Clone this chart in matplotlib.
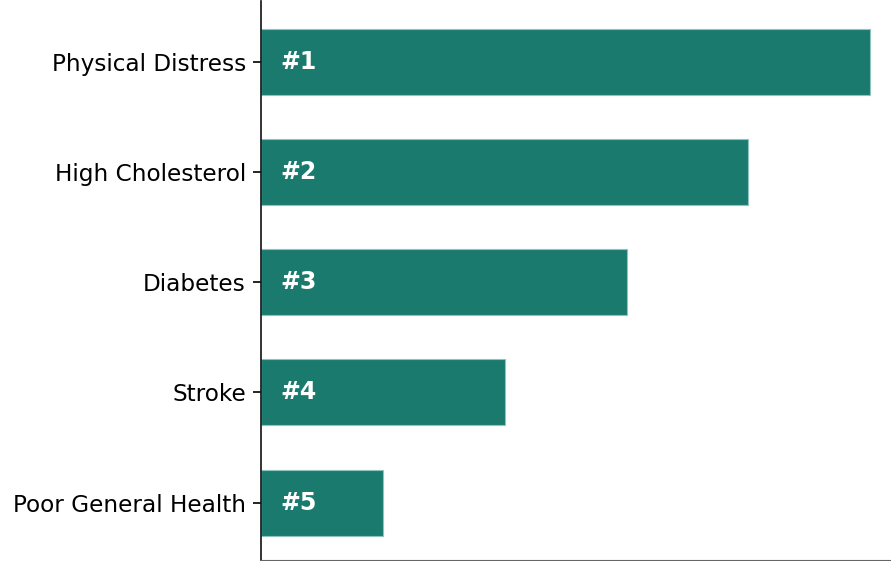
import matplotlib
matplotlib.use("Agg")
from matplotlib import pyplot as plt

categories = ["Physical Distress", "High Cholesterol", "Diabetes", "Stroke", "Poor General Health"]
values = [5, 4, 3, 2, 1]
ranks = ["#1", "#2", "#3", "#4", "#5"]

plt.rcParams['font.family'] = 'DejaVu Sans'

fig = plt.figure(figsize=(8.91, 5.61), dpi=100)
ax = fig.add_axes([0.293, 0.002, 0.707, 0.996])

ypos = list(range(len(categories)))
ax.barh(ypos, values, height=0.6, color="#1b7a6e", edgecolor="#8fc4bc", linewidth=0.8)

for y, r in zip(ypos, ranks):
    ax.text(0.16, y, r, color="white", fontsize=17, fontweight="bold",
            va="center", ha="left")

ax.set_yticks(ypos)
ax.set_yticklabels(categories, fontsize=16.7)
ax.set_ylim(4.52, -0.55)
ax.set_xlim(0, 5.17)
ax.set_xticks([])

ax.spines['top'].set_visible(False)
ax.spines['right'].set_visible(False)
ax.spines['left'].set_linewidth(1.2)
ax.spines['left'].set_color("#111111")
ax.spines['bottom'].set_color("#666666")
ax.tick_params(axis='y', length=6, width=1.2, pad=5)

fig.savefig("out.png", dpi=100)
